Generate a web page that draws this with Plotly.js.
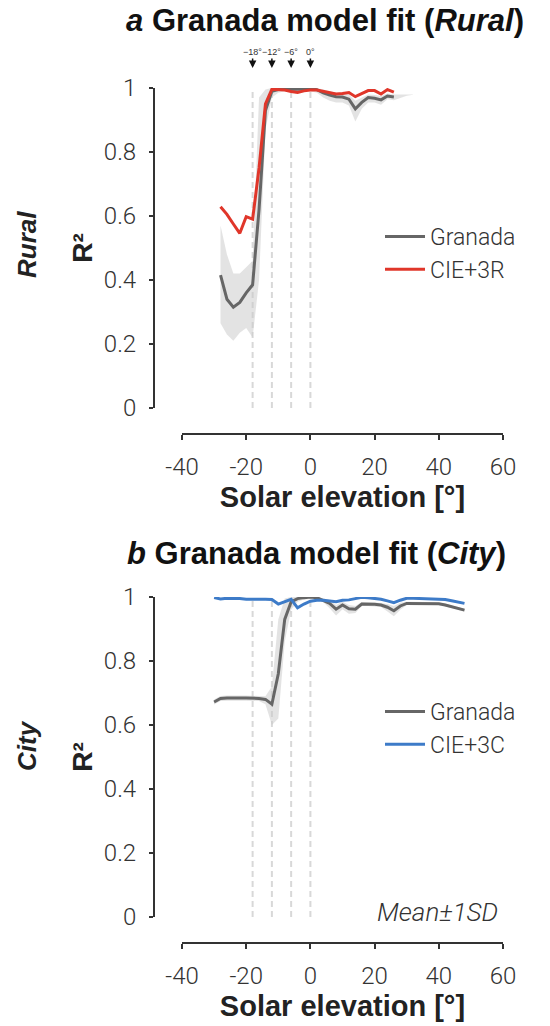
<!DOCTYPE html>
<html>
<head>
<meta charset="utf-8">
<script src="https://cdn.plot.ly/plotly-3.0.1.min.js"></script>
<style>html,body{margin:0;padding:0;background:#fff;}#chart{width:550px;height:1026px;}</style>
</head>
<body>
<div id="chart"></div>
<script>
// ---------- data ----------
const twilightAngles = [-18, -12, -6, 0];
const twilightLabels = ['\u221218\u00b0', '\u221212\u00b0', '\u22126\u00b0', '0\u00b0'];

const xTickVals = [-40, -20, 0, 20, 40, 60];
const xTickText = ['-40', '-20', '0', '20', '40', '60'];
const yTickVals = [0, 0.2, 0.4, 0.6, 0.8, 1];
const yTickText = ['0', '0.2', '0.4', '0.6', '0.8', '1'];

// Panel a (Rural)
const ruralElev = [-28,-26,-24,-22,-20,-18,-16,-14,-12,-10,-8,-6,-4,-2,0,2,4,6,8,10,12,14,16,18,20,22,24,26];
const ruralGranada = [0.415,0.34,0.315,0.33,0.36,0.385,0.62,0.93,0.99,0.995,0.995,0.996,0.996,0.997,0.997,0.995,0.985,0.978,0.973,0.972,0.965,0.935,0.955,0.97,0.968,0.963,0.975,0.972];
const ruralCIE = [0.629,0.605,0.575,0.546,0.598,0.59,0.75,0.95,0.996,0.996,0.994,0.989,0.986,0.991,0.994,0.994,0.989,0.986,0.981,0.983,0.986,0.973,0.983,0.992,0.992,0.981,0.995,0.987];
const ruralBandElev = [-28,-26,-24,-22,-20,-18,-16,-14,-12,-10,-8,-6,-4,-2,0,2,4,6,8,10,12,14,16,18,20,22,24,26,28,30,32];
const ruralBandUpper = [0.57,0.48,0.42,0.42,0.44,0.46,0.97,0.995,1.0,1.0,1.0,1.0,1.0,1.0,1.0,1.0,0.995,0.99,0.985,0.983,0.98,0.96,0.97,0.98,0.978,0.975,0.983,0.98,0.98,0.98,0.98];
const ruralBandLower = [0.265,0.23,0.21,0.235,0.25,0.22,0.40,0.87,0.97,0.985,0.99,0.99,0.99,0.99,0.99,0.985,0.97,0.96,0.955,0.955,0.945,0.895,0.935,0.955,0.955,0.948,0.965,0.962,0.97,0.976,0.979];

// Panel b (City)
const cityElev = [-30,-28,-26,-24,-22,-20,-18,-16,-14,-12,-10,-8,-6,-4,-2,0,2,4,6,8,10,12,14,16,18,20,22,24,26,28,30,32,34,36,38,40,42,44,46,48];
const cityGranada = [0.672,0.683,0.684,0.683,0.684,0.684,0.684,0.683,0.68,0.665,0.76,0.93,0.985,0.995,0.998,1.0,0.998,0.99,0.98,0.962,0.975,0.963,0.962,0.978,0.978,0.977,0.975,0.968,0.957,0.972,0.98,0.98,0.98,0.98,0.98,0.979,0.975,0.969,0.963,0.959];
const cityCIE = [0.998,0.994,0.996,0.996,0.995,0.993,0.992,0.993,0.993,0.992,0.978,0.985,0.993,0.966,0.978,0.987,0.99,0.99,0.987,0.985,0.99,0.991,0.995,0.999,0.998,0.996,0.993,0.988,0.982,0.99,0.996,0.996,0.995,0.995,0.994,0.994,0.992,0.988,0.984,0.98];
const cityBandUpper = [0.68,0.691,0.692,0.691,0.692,0.692,0.692,0.691,0.69,0.72,0.93,0.995,1.0,1.0,1.0,1.0,1.0,0.996,0.99,0.975,0.985,0.975,0.972,0.984,0.984,0.983,0.981,0.978,0.972,0.982,0.985,0.984,0.984,0.984,0.984,0.983,0.979,0.973,0.967,0.963];
const cityBandLower = [0.664,0.675,0.676,0.675,0.676,0.676,0.676,0.675,0.665,0.60,0.62,0.86,0.96,0.985,0.992,0.994,0.992,0.984,0.965,0.942,0.962,0.948,0.95,0.972,0.972,0.971,0.969,0.955,0.94,0.96,0.975,0.976,0.976,0.976,0.976,0.975,0.971,0.965,0.959,0.955];

// ---------- styles ----------
const W = 550, H = 1026;
const GRAY = '#666666', RED = '#e0362a', BLUE = '#3d7bc8', BAND = 'rgba(200,200,200,0.5)';
const TXT = '#333333';
const SANS = '"Liberation Sans", Arial, sans-serif';
const LIGHT = 'Roboto, "Liberation Sans", sans-serif';
const tickFont = {family: LIGHT, size: 24, color: TXT, weight: 300};
const boldFont = {family: SANS, size: 28, color: '#222', weight: 700};
const xTitleFont = {family: SANS, size: 29, color: '#222', weight: 700};

function py(v) { return 1 - v / H; }

const traces = [];
function addPanel(xa, ya, leg, bx, bu, bl, ex, g, c, cname, ccol) {
  traces.push({x: bx, y: bu, xaxis: xa, yaxis: ya, mode: 'lines', line: {width: 0, color: BAND}, hoverinfo: 'skip', showlegend: false});
  traces.push({x: bx, y: bl, xaxis: xa, yaxis: ya, mode: 'lines', line: {width: 0, color: BAND}, fill: 'tonexty', fillcolor: BAND, hoverinfo: 'skip', showlegend: false});
  traces.push({x: ex, y: g, xaxis: xa, yaxis: ya, mode: 'lines', name: 'Granada', legend: leg, line: {color: GRAY, width: 3}});
  traces.push({x: ex, y: c, xaxis: xa, yaxis: ya, mode: 'lines', name: cname, legend: leg, line: {color: ccol, width: 3}});
}
addPanel('x', 'y', 'legend', ruralBandElev, ruralBandUpper, ruralBandLower, ruralElev, ruralGranada, ruralCIE, 'CIE+3R', RED);
addPanel('x2', 'y2', 'legend2', cityElev, cityBandUpper, cityBandLower, cityElev, cityGranada, cityCIE, 'CIE+3C', BLUE);

function xAxis(pos) {
  return {
    domain: [182 / W, 503 / W], range: [-40, 60], anchor: 'free', position: pos,
    showline: true, linecolor: TXT, linewidth: 2, showgrid: false, zeroline: false,
    ticks: 'outside', ticklen: 5, tickwidth: 2, tickcolor: TXT,
    tickmode: 'array', tickvals: xTickVals, ticktext: xTickText, tickfont: tickFont, ticklabelstandoff: 6,
    title: {text: 'Solar elevation [°]', font: xTitleFont, standoff: 3}, fixedrange: true
  };
}
function yAxis(top, bottom) {
  return {
    domain: [py(bottom), py(top)], range: [0, 1], anchor: 'free', position: 154 / W,
    showline: true, linecolor: TXT, linewidth: 2, showgrid: false, zeroline: false,
    ticks: 'outside', ticklen: 4, tickwidth: 2, tickcolor: TXT,
    tickmode: 'array', tickvals: yTickVals, ticktext: yTickText, tickfont: tickFont, ticklabelstandoff: 8,
    title: {text: 'R²', font: boldFont, standoff: 2}, fixedrange: true
  };
}

const shapes = [];
[['x', 'y'], ['x2', 'y2']].forEach(([xa, ya]) => {
  twilightAngles.forEach(a => {
    shapes.push({type: 'line', xref: xa, yref: ya, x0: a, x1: a, y0: 0, y1: 1, layer: 'below',
      line: {color: '#d8d8d8', width: 2, dash: '6px,4px'}});
  });
});

const annotations = [];
twilightAngles.forEach((a, i) => {
  annotations.push({x: a, xref: 'x', y: py(68), yref: 'paper', text: twilightLabels[i],
    showarrow: true, ax: 0, ay: -16, arrowhead: 2, arrowsize: 1, arrowwidth: 1.5, arrowcolor: '#111',
    font: {family: SANS, size: 9, color: '#333'}});
});
annotations.push({text: '<b><i>b</i> Granada model fit (<i>City</i>)</b>', xref: 'paper', yref: 'paper',
  x: 316 / W, y: py(553), xanchor: 'center', yanchor: 'middle', showarrow: false,
  font: {family: SANS, size: 31, color: '#111'}});
annotations.push({text: '<b><i>Rural</i></b>', xref: 'paper', yref: 'paper', x: 27 / W, y: py(245),
  xanchor: 'center', yanchor: 'middle', textangle: -90, showarrow: false, font: {family: SANS, size: 26, color: '#222'}});
annotations.push({text: '<b><i>City</i></b>', xref: 'paper', yref: 'paper', x: 27 / W, y: py(746),
  xanchor: 'center', yanchor: 'middle', textangle: -90, showarrow: false, font: {family: SANS, size: 26, color: '#222'}});
annotations.push({text: '<i>Mean±1SD</i>', xref: 'paper', yref: 'paper', x: 437 / W, y: py(912),
  xanchor: 'center', yanchor: 'middle', showarrow: false,
  font: {family: LIGHT, size: 26, color: TXT, weight: 300}});

const legendFont = {family: LIGHT, size: 23, color: TXT, weight: 300};
const layout = {
  width: W, height: H, margin: {l: 0, r: 0, t: 0, b: 0, autoexpand: false},
  paper_bgcolor: '#fff', plot_bgcolor: 'rgba(0,0,0,0)',
  title: {text: '<b><i>a</i> Granada model fit (<i>Rural</i>)</b>', x: 325 / W, xanchor: 'center', y: py(20), yanchor: 'middle',
    font: {family: SANS, size: 31, color: '#111'}},
  xaxis: xAxis(py(434)), yaxis: yAxis(88, 408),
  xaxis2: xAxis(py(943)), yaxis2: yAxis(597, 917),
  showlegend: true,
  legend: {x: 380 / W, y: py(215), xanchor: 'left', yanchor: 'top', font: legendFont, bgcolor: 'rgba(0,0,0,0)', traceorder: 'normal', itemwidth: 40},
  legend2: {x: 380 / W, y: py(690), xanchor: 'left', yanchor: 'top', font: legendFont, bgcolor: 'rgba(0,0,0,0)', traceorder: 'normal', itemwidth: 40},
  shapes: shapes, annotations: annotations
};
Plotly.newPlot('chart', traces, layout, {displayModeBar: false, staticPlot: true});
</script>
</body>
</html>
